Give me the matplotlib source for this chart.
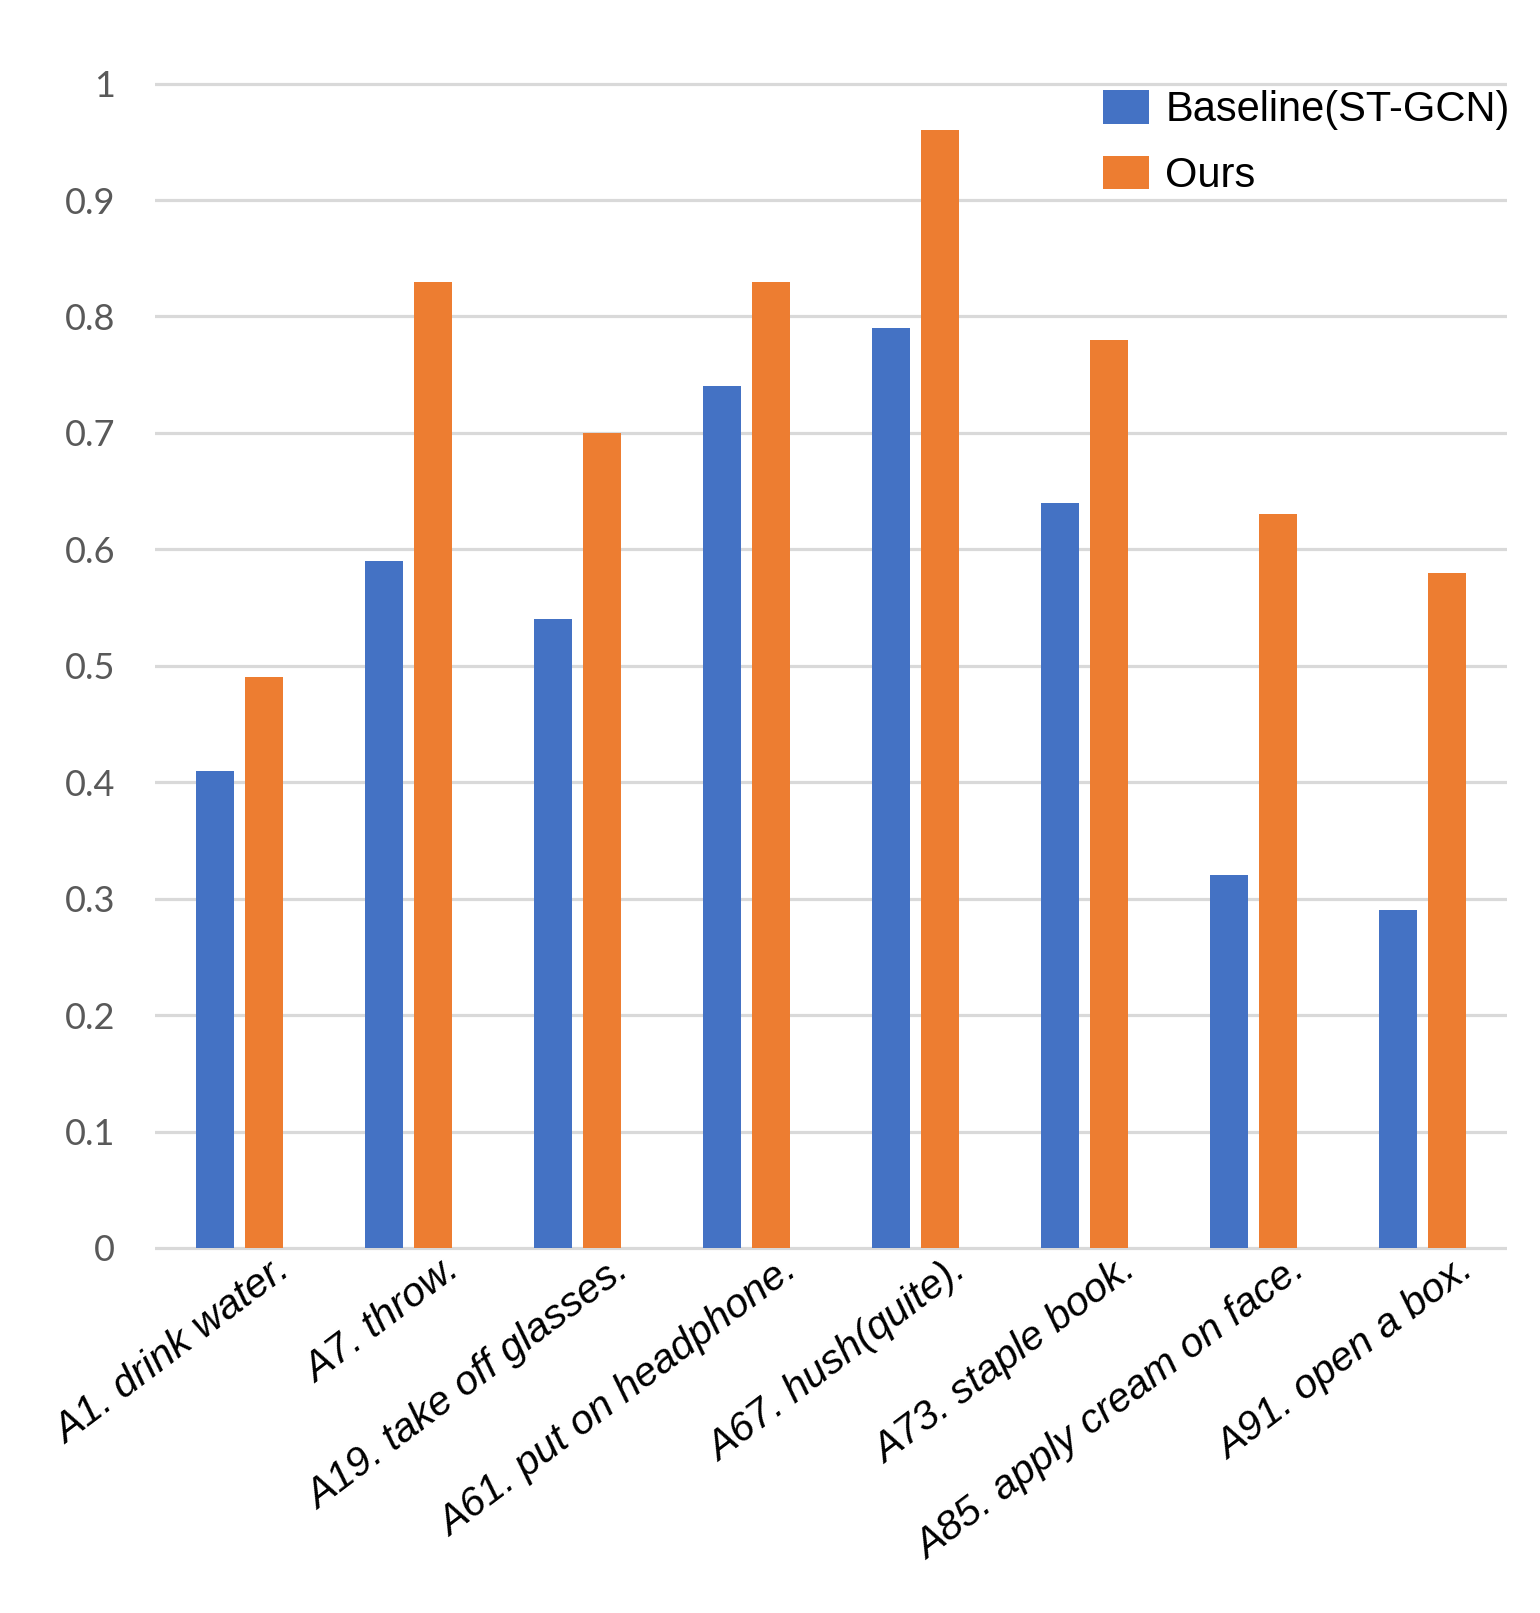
import numpy as np
import matplotlib
matplotlib.use("Agg")
import matplotlib.pyplot as plt
from matplotlib.transforms import ScaledTranslation

# data
categories = ["A1. drink water.", "A7. throw.", "A19. take off glasses.",
              "A61. put on headphone.", "A67. hush(quite).", "A73. staple book.",
              "A85. apply cream on face.", "A91. open a box."]
baseline = [0.41, 0.59, 0.54, 0.74, 0.79, 0.64, 0.32, 0.29]
ours = [0.49, 0.83, 0.70, 0.83, 0.96, 0.78, 0.63, 0.58]
yticks = [0, 0.1, 0.2, 0.3, 0.4, 0.5, 0.6, 0.7, 0.8, 0.9, 1]
ytick_labels = ["0", "0.1", "0.2", "0.3", "0.4", "0.5", "0.6", "0.7", "0.8", "0.9", "1"]

blue = "#4472C4"
orange = "#ED7D31"
grid_col = "#D9D9D9"

fig = plt.figure(figsize=(15.4, 16.13), dpi=100)
ax = fig.add_axes([0.1006, 0.2191, 0.878, 0.7435])

x = np.arange(len(categories))
w = 0.223
off = 0.145
ax.bar(x - off, baseline, w, color=blue, label="Baseline(ST-GCN)", zorder=3)
ax.bar(x + off, ours, w, color=orange, label="Ours", zorder=3)

ax.set_xlim(-0.5, len(categories) - 0.5)
ax.set_ylim(-0.01, 1.02)
ax.set_yticks(yticks)
ax.set_yticklabels(ytick_labels, family="Lato", fontsize=26, color="#595959")
ax.yaxis.grid(True, color=grid_col, linewidth=2.3, zorder=0)
ax.set_axisbelow(True)
ax.tick_params(axis="y", length=0, pad=28.5)
ax.tick_params(axis="x", length=0, pad=0)
for s in ax.spines.values():
    s.set_visible(False)

ax.set_xticks(x)
ax.set_xticklabels(categories, rotation=37, ha="right", va="top",
                   rotation_mode="anchor", fontsize=29.5,
                   family="Liberation Sans", style="italic")
# nudge the rotated labels so their ends sit like the reference
shift = ScaledTranslation(0.35, 0.09, fig.dpi_scale_trans)
for lab in ax.get_xticklabels():
    lab.set_transform(lab.get_transform() + shift)

ax.legend(loc="upper left", bbox_to_anchor=(0.7162, 0.944),
          bbox_transform=fig.transFigure, frameon=False,
          prop={"family": "Liberation Sans", "size": 30},
          handlelength=1.1, handleheight=0.85, handletextpad=0.4,
          labelspacing=0.62, borderpad=0, borderaxespad=0)

fig.savefig("out.png", dpi=100)
